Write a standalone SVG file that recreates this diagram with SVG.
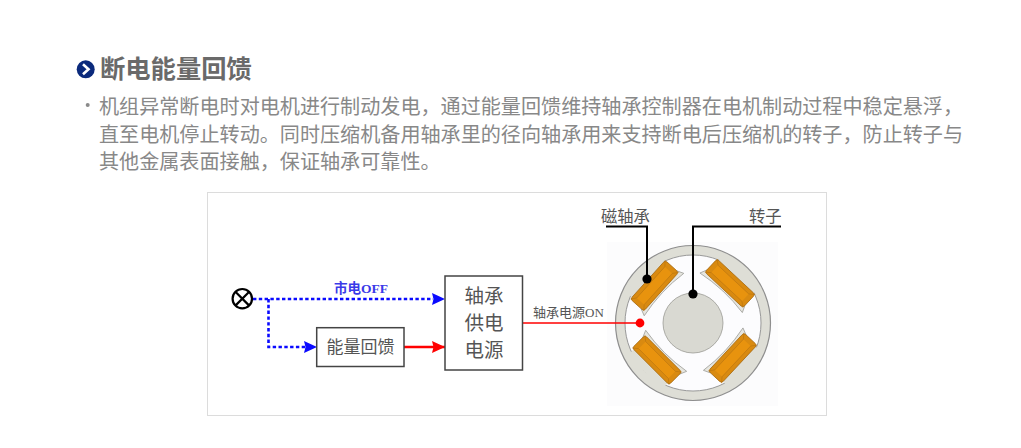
<svg xmlns="http://www.w3.org/2000/svg" width="1021" height="448" viewBox="0 0 1021 448">
<style>
text{font-family:"Noto Sans CJK SC","Noto Sans",sans-serif}
.title{font-size:25.3px;font-weight:700;fill:#6a6a6a}
.body{font-size:20.1px;fill:#888}
.lbl{fill:#555;text-anchor:middle}
.box{fill:#fff;stroke:#444;stroke-width:1.5}
.blue{fill:none;stroke:#0a0aff;stroke-width:2.6;stroke-dasharray:3.4 2.4}
.red{fill:none;stroke:#f00;stroke-width:1.6}
.lead{fill:none;stroke:#000;stroke-width:2}
.back{fill:#deded6}
.shoe{fill:#e6e6e0;stroke:#a0a09c;stroke-width:.8}
</style>
<defs>
<marker id="ab" markerUnits="userSpaceOnUse" markerWidth="15" markerHeight="15" refX="13" refY="7" orient="auto"><path d="M0,1L13,7L0,13L1.5,7Z" fill="#0a0aff"/></marker>
<marker id="ar" markerUnits="userSpaceOnUse" markerWidth="15" markerHeight="15" refX="13" refY="7" orient="auto"><path d="M0,1L13,7L0,13L1.5,7Z" fill="#f00"/></marker>
<g id="coil">
<rect x="-26" y="-9" width="52" height="18" rx="2.5" fill="#d98a10" stroke="#a86a10" stroke-width=".8"/>
<rect x="-21" y="-5" width="42" height="10" fill="#e8930e"/>
<path d="M-21,-5L-26,-9M21,-5L26,-9M-21,5L-26,9M21,5L26,9M-21,-5H21M-21,5H21" stroke="#b87410" stroke-width=".6" fill="none"/>
</g>
<g id="poleback">
<path class="back" d="M-24,8L-24,-17L24,-17L24,8Z"/>
<path class="shoe" d="M-29,13Q0,8 29,13L26,6L-26,6Z"/>
</g>
</defs>
<g id="header">
<circle cx="85.7" cy="69.3" r="9" fill="#0b2a7c"/>
<path d="M83,64.3L88.5,69.3L83,74.3" fill="none" stroke="#fff" stroke-width="2.6"/>
<text class="title" x="100" y="78">断电能量回馈</text>
</g>
<g id="body">
<circle cx="87.7" cy="105" r="2" fill="#8a8a8a"/>
<text class="body" x="99" y="114">机组异常断电时对电机进行制动发电，通过能量回馈维持轴承控制器在电机制动过程中稳定悬浮，</text>
<text class="body" x="99" y="141.5">直至电机停止转动。同时压缩机备用轴承里的径向轴承用来支持断电后压缩机的转子，防止转子与</text>
<text class="body" x="99" y="169">其他金属表面接触，保证轴承可靠性。</text>
</g>
<rect id="frame" x="207.5" y="192.5" width="619" height="223" fill="#fff" stroke="#dcdcdc"/>
<g id="motor">
<rect x="607" y="242" width="171" height="164" fill="#fcfcfd"/>
<circle cx="693" cy="323" r="77.5" fill="#deded6" stroke="#8e8e8e" stroke-width="1.2"/>
<circle cx="693" cy="323" r="68" fill="#fcfcfe" stroke="#8e8e8e" stroke-width=".9"/>
<use href="#poleback" transform="translate(654.5,285.7) rotate(-47)"/>
<use href="#poleback" transform="translate(730,283.3) rotate(43)"/>
<use href="#poleback" transform="translate(732.7,358) rotate(133)"/>
<use href="#poleback" transform="translate(657,360) rotate(225)"/>
<circle cx="693" cy="323" r="30" fill="#d9d9d2" stroke="#9a9a94" stroke-width=".8"/>
<use href="#coil" transform="translate(654.5,285.7) rotate(-48)"/>
<use href="#coil" transform="translate(730,283.3) rotate(43)"/>
<use href="#coil" transform="translate(732.7,358) rotate(-47)"/>
<use href="#coil" transform="translate(657,360) rotate(45)"/>
</g>
<g id="connectors">
<path class="blue" d="M253,299H433" />
<path d="M433,299h12" fill="none" stroke="none" marker-end="url(#ab)"/>
<path class="blue" d="M268.5,299V347H305"/>
<path d="M305,347h12" fill="none" stroke="none" marker-end="url(#ab)"/>
<path class="red" d="M404,347H445" style="stroke-width:2.4" marker-end="url(#ar)"/>
<path class="red" d="M522.5,323H640"/>
<circle cx="640" cy="323" r="4.4" fill="#f00"/>
<path class="lead" d="M606,226.5H647V279"/>
<circle cx="647" cy="279" r="4.6" fill="#000"/>
<path class="lead" d="M781,226.5H693V294"/>
<circle cx="693" cy="294" r="4.6" fill="#000"/>
</g>
<g id="source">
<circle cx="242.3" cy="298.7" r="9.7" fill="#fff" stroke="#000" stroke-width="2.2"/>
<path d="M235.4,291.8L249.2,305.6M249.2,291.8L235.4,305.6" stroke="#000" stroke-width="2.2"/>
</g>
<g id="feedback">
<rect class="box" x="316.7" y="327.7" width="87.3" height="38.8"/>
<text class="lbl" x="360.5" y="353" font-size="17">能量回馈</text>
</g>
<g id="supply">
<rect class="box" x="445" y="276" width="77.5" height="94"/>
<text class="lbl" x="484" y="303" font-size="19.5">轴承</text>
<text class="lbl" x="484" y="330" font-size="19.5">供电</text>
<text class="lbl" x="484" y="357" font-size="19.5">电源</text>
</g>
<g id="labels">
<text x="334" y="293" font-size="13.5" font-weight="700" fill="#3a3ae8">市电<tspan font-family="Liberation Serif">OFF</tspan></text>
<text x="533" y="317" font-size="13" fill="#555">轴承电源<tspan font-family="Liberation Serif">ON</tspan></text>
<text x="601" y="222" font-size="16.3" fill="#555">磁轴承</text>
<text x="749" y="222" font-size="16.3" fill="#555">转子</text>
</g>
</svg>
